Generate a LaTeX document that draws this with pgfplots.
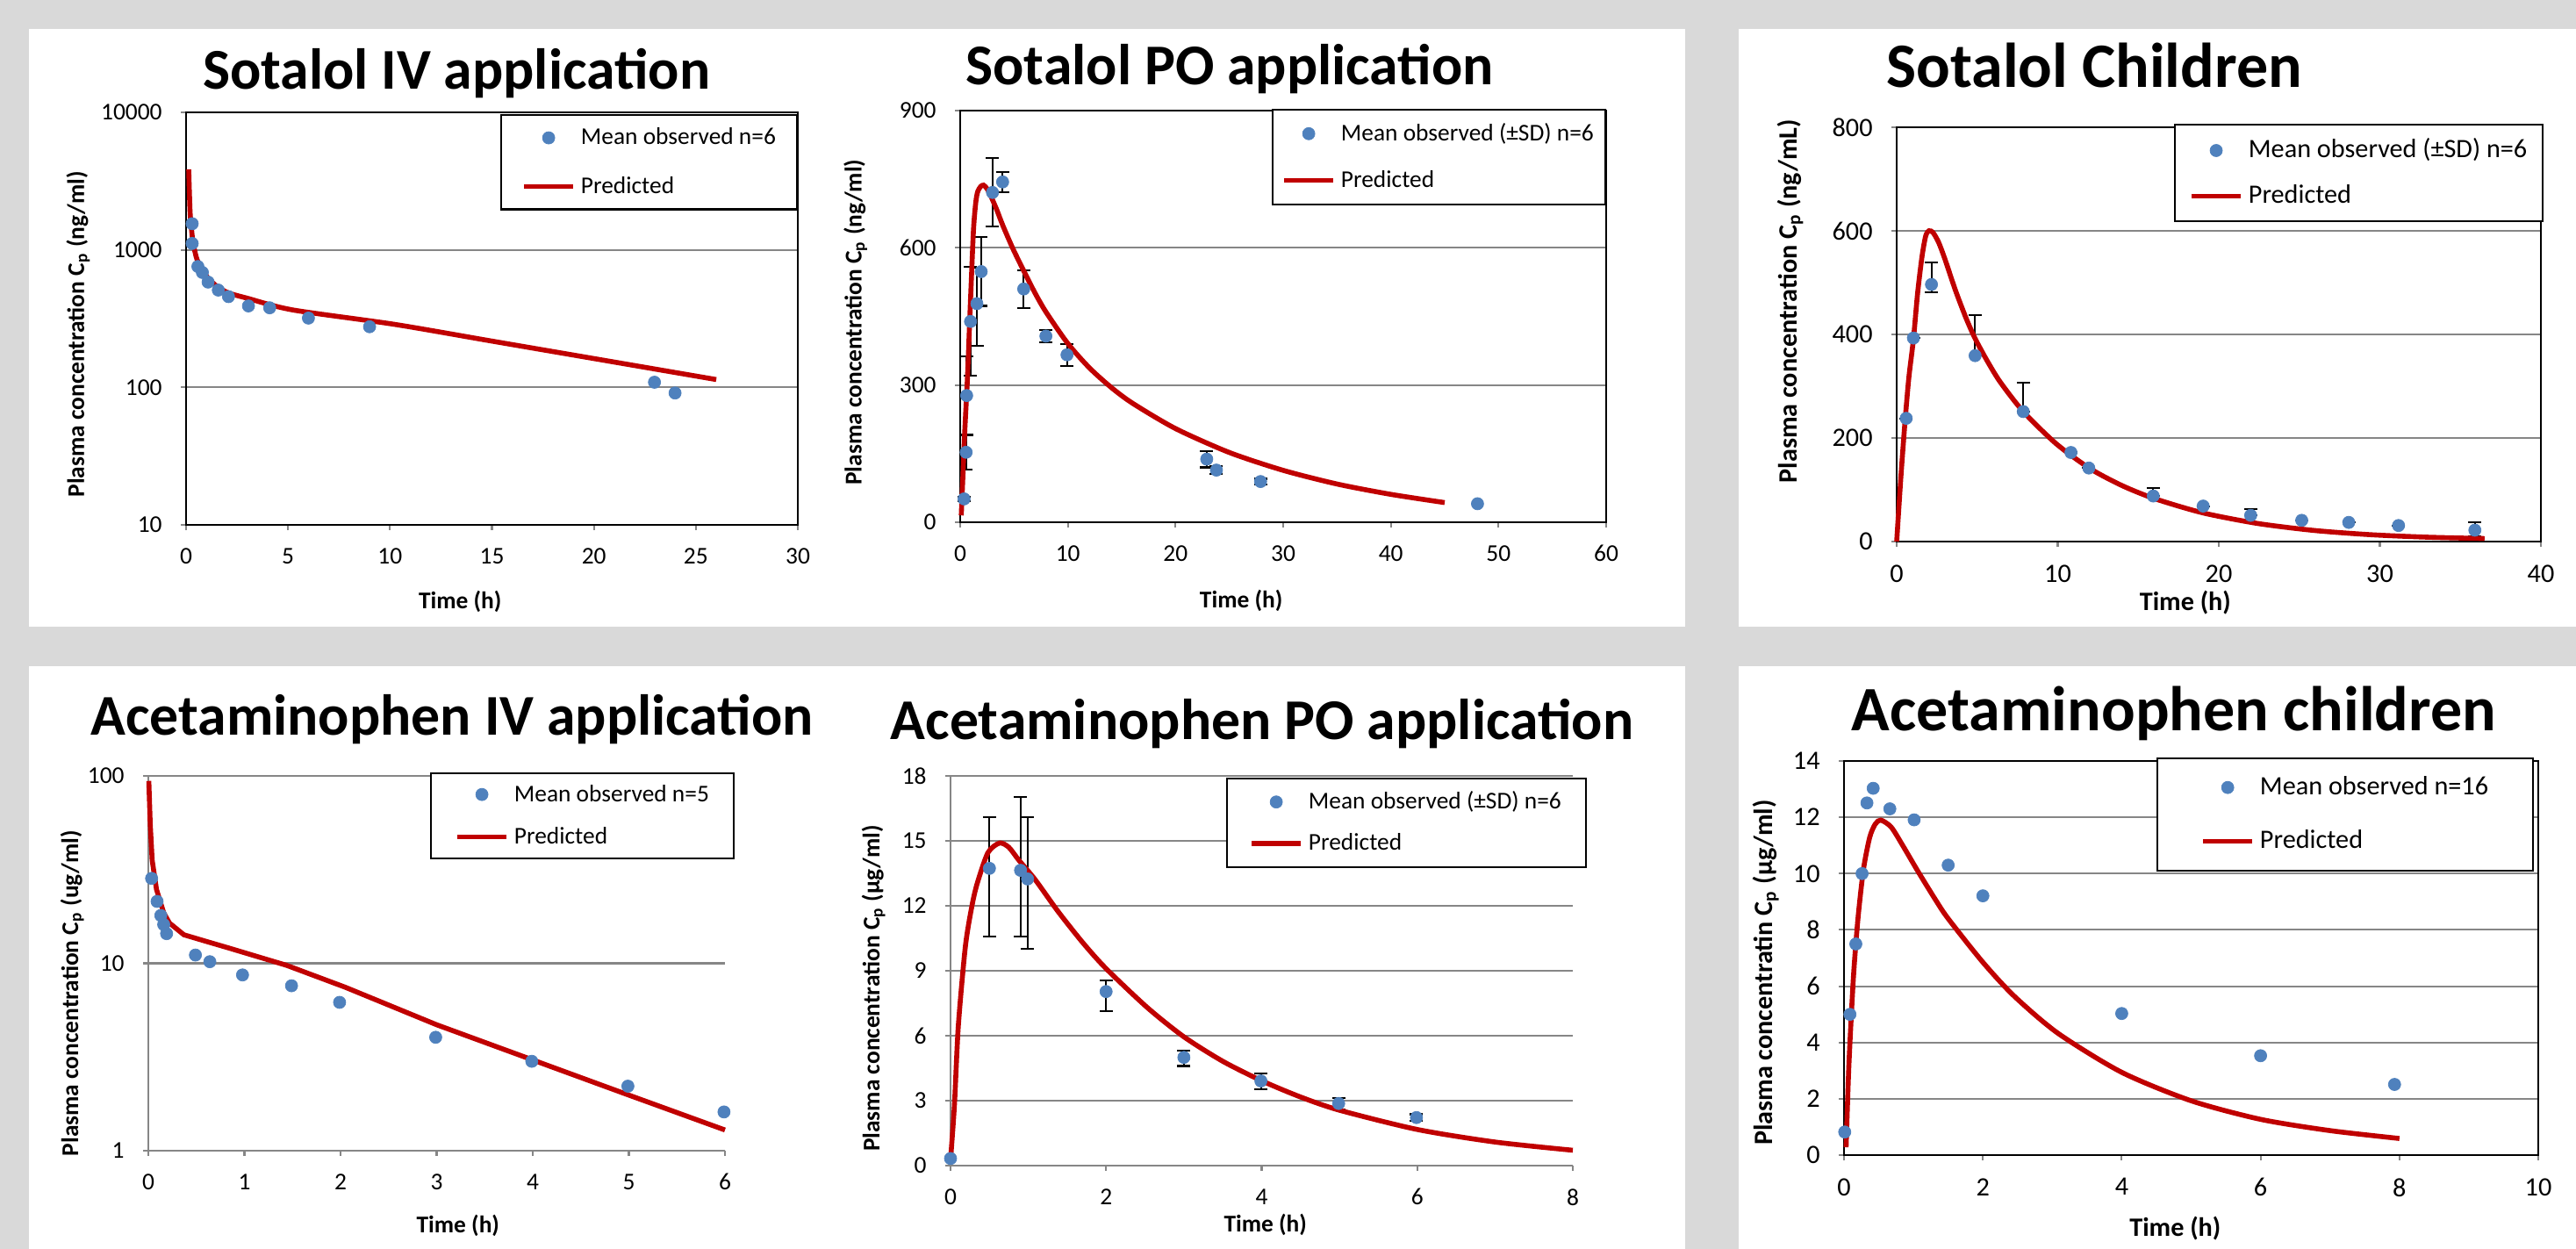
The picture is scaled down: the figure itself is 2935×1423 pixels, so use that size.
\documentclass[border=0pt]{standalone}
\usepackage{fontspec}
\setmainfont{Carlito}
\usepackage{pgfplots}
\pgfplotsset{compat=1.18}
\definecolor{bggrey}{HTML}{D9D9D9}
\definecolor{gridgrey}{HTML}{868686}
\definecolor{obsblue}{HTML}{4F81BD}
\definecolor{predred}{HTML}{C00000}
\newcommand{\fsA}{\fontsize{7.8}{9}\selectfont}
\newcommand{\fsB}{\fontsize{8.6}{10}\selectfont}
\newcommand{\legtext}[2]{\makebox[#1][l]{\rule[-0.7mm]{0pt}{2.8mm}#2}}
\pgfplotsset{
  panel/.style={
    scale only axis, enlargelimits=false, clip=false,
    axis line style={black, line width=0.6pt},
    tick style={gridgrey, line width=0.6pt},
    tick align=outside, major tick length=0.6mm,
    xtick pos=left, ytick pos=left,
    ymajorgrids, grid style={gridgrey, line width=0.6pt},
    xticklabel style={yshift=-0.8mm},
    yticklabel style={xshift=-0.9mm},
    /pgf/number format/assume math mode=true,
    /pgf/number format/1000 sep={},
    scaled ticks=false,
    legend cell align=left,
  },
  open/.style={axis line style={draw=none}},
  fontA/.style={ticklabel style={font=\fsA}, label style={font=\bfseries\fsA}},
  fontB/.style={ticklabel style={font=\fsB}, label style={font=\bfseries\fsB}},
  leg/.style n args={6}{legend style={at={(#1,#2)}, anchor=north east, draw=black,
     line width=0.6pt, fill=white, inner xsep=#3, inner ysep=#4, row sep=#5, font=#6,
     nodes={inner sep=0pt}, /tikz/every odd column/.append style={column sep=0.6mm}}},
  obs/.style={only marks, mark=*, mark size=0.7mm,
     mark options={fill=obsblue, draw=obsblue, line width=0.2pt},
     legend image code/.code={\path[draw=none, fill=none] (0mm,0mm) -- (5.6mm,0mm);
        \draw[##1] plot coordinates {(2.8mm,0mm)};}},
  errs/.style={error bars/.cd, y dir=both, y explicit,
     error bar style={black, line width=0.6pt},
     error mark options={rotate=90, mark size=0.75mm, black, line width=0.6pt}},
  pred/.style={no marks, color=predred, line width=1.6pt, smooth, tension=0.45,
     legend image code/.code={\draw[##1] (0mm,0mm) -- (5.6mm,0mm);}},
}
\begin{document}
\begin{tikzpicture}
\begin{scope}[x=0.1mm, y=-0.1mm]
\fill[bggrey] (0,0) rectangle (2935,1423);
\fill[white] (33,33) rectangle (1920,714);
\fill[white] (1981,33) rectangle (2935,714);
\fill[white] (33,759) rectangle (1920,1423);
\fill[white] (1981,759) rectangle (2935,1423);
\end{scope}

% ---------- Panel 1: Sotalol IV ----------
\begin{axis}[panel, fontA, at={(21.2mm,-59.8mm)}, anchor=south west,
  width=69.7mm, height=47mm,
  xmin=0, xmax=30, xtick={0,5,...,30},
  ymode=log, ymin=10, ymax=10000, ytick={10,100,1000,10000},
  yticklabels={10,100,1000,10000}, yminorticks=false, minor ytick={},
  xlabel={Time (h)}, ylabel={Plasma concentration C\textsubscript{p} (ng/ml)},
  xlabel style={at={(axis description cs:0.448,-0.187)}, anchor=center},
  ylabel style={at={(axis description cs:-0.1765,0.462)}, anchor=center},
  leg={1}{0.996}{2.3mm}{1.3mm}{2.9mm}{\fsA}]
\addplot[obs] coordinates {(0.3,1550) (0.3,1113) (0.58,757) (0.8,685) (1.08,583)
  (1.58,510) (2.08,457) (3.06,391) (4.1,379) (6.0,319) (9.0,276) (22.97,109) (23.98,91)};
\addlegendentry{\legtext{22.3mm}{Mean observed n=6}}
\addplot[pred] coordinates {(0.13,3850) (0.16,2700) (0.2,1850) (0.27,1400) (0.34,1130)
  (0.45,950) (0.55,840) (0.8,720) (1.06,628) (1.5,545) (2.07,487) (3,445) (5.22,366)
  (10.24,287) (15,217) (20,162) (26,114)};
\addlegendentry{\legtext{22.3mm}{Predicted}}
\end{axis}

% ---------- Panel 2: Sotalol PO ----------
\begin{axis}[panel, fontA, at={(109.4mm,-59.5mm)}, anchor=south west,
  width=73.6mm, height=46.9mm,
  xmin=0, xmax=60, xtick={0,10,...,60},
  ymin=0, ymax=900, ytick={0,300,600,900},
  xlabel={Time (h)}, ylabel={Plasma concentration C\textsubscript{p} (ng/ml)},
  xlabel style={at={(axis description cs:0.435,-0.19)}, anchor=center},
  ylabel style={at={(axis description cs:-0.162,0.486)}, anchor=center},
  leg={1}{1.004}{1.0mm}{1.4mm}{2.7mm}{\fsA}]
\addplot[obs, errs] coordinates {
  (0.36,51) +- (0,5)
  (0.55,153) +- (0,37)
  (0.6,277) +- (0,86)
  (0.96,439) +- (0,119)
  (1.55,478) += (0,78) -= (0,92)
  (1.95,548) +- (0,75)
  (3.0,721) +- (0,75)
  (3.94,744) +- (0,22)
  (5.9,510) +- (0,41)
  (7.96,407) +- (0,13)
  (9.92,366) +- (0,24)
  (22.9,138) +- (0,18)
  (23.8,114) +- (0,8)
  (27.9,89) +- (0,6)};
\addlegendentry{\legtext{29.1mm}{Mean observed (±SD) n=6}}
\addplot[pred] coordinates {(0.1,15) (0.25,100) (0.41,192) (0.68,319) (0.95,480)
  (1.23,637) (1.45,700) (1.63,723) (1.9,734) (2.17,737) (2.5,729) (2.85,713) (3.4,683)
  (3.94,650) (4.9,598) (6,545) (7,499) (8,458.5) (10,390.7) (12,337.6) (14,295.3)
  (16,260.3) (20,204.8) (25,152.5) (30,113.5) (35,83.6) (40,61) (45,43)};
\addlegendentry{\legtext{29.1mm}{Predicted}}
\addplot[obs, forget plot] coordinates {(48.05,40.5)};
\end{axis}

% ---------- Panel 3: Sotalol Children ----------
\begin{axis}[panel, fontB, at={(216.1mm,-61.7mm)}, anchor=south west,
  width=73.4mm, height=47.2mm,
  xmin=0, xmax=40, xtick={0,10,...,40},
  ymin=0, ymax=800, ytick={0,200,...,800},
  xlabel={Time (h)}, ylabel={Plasma concentration C\textsubscript{p} (ng/mL)},
  xlabel style={at={(axis description cs:0.448,-0.147)}, anchor=center},
  ylabel style={at={(axis description cs:-0.165,0.58)}, anchor=center},
  leg={1.004}{1.008}{1.6mm}{1.55mm}{2.5mm}{\fsB}]
\addplot[obs, errs] coordinates {
  (0.59,238) +- (0,0)
  (1.04,393) +- (0,0)
  (2.16,496.5) += (0,42) -= (0,15)
  (4.87,359) += (0,79) -= (0,0)
  (7.86,251) += (0,56) -= (0,0)
  (10.82,172) +- (0,0)
  (11.93,142) +- (0,0)
  (15.93,88) += (0,15.5) -= (0,0)
  (19.03,68.5) +- (0,0)
  (21.98,50.6) += (0,12.4) -= (0,0)
  (25.15,41) +- (0,0)
  (28.07,37) +- (0,0)
  (31.16,31) +- (0,0)
  (35.9,22) += (0,15) -= (0,12)};
\addlegendentry{\legtext{31.9mm}{Mean observed (±SD) n=6}}
\addplot[pred] coordinates {(0,0) (0.25,120) (0.5,225) (0.75,315) (1.04,391) (1.3,480)
  (1.57,550) (1.8,590) (2.0,600) (2.25,597) (2.6,578) (3.0,545) (3.65,485) (4.3,432)
  (4.87,392) (5.6,350) (6.43,308) (7.86,251) (9.9,189) (12,141) (14,108) (16,83)
  (19,55.5) (22.4,35) (25.9,21.5) (29.4,13.3) (32.9,8.5) (36.5,5.8)};
\addlegendentry{\legtext{31.9mm}{Predicted}}
\end{axis}

% ---------- Panel 4: Acetaminophen IV ----------
\begin{axis}[panel, open, fontA, at={(16.9mm,-131.1mm)}, anchor=south west,
  width=65.7mm, height=42.7mm,
  xmin=0, xmax=6, xtick={0,1,...,6},
  ymode=log, ymin=1, ymax=100, ytick={1,10,100},
  yticklabels={1,10,100}, yminorticks=false, minor ytick={},
  xlabel={Time (h)}, ylabel={Plasma concentration C\textsubscript{p} (ug/ml)},
  xlabel style={at={(axis description cs:0.537,-0.201)}, anchor=center},
  ylabel style={at={(axis description cs:-0.132,0.42)}, anchor=center},
  leg={1.0167}{1.0094}{2.7mm}{1.1mm}{2.2mm}{\fsA}]
\draw[gridgrey, line width=0.6pt] (rel axis cs:0,1) -- (rel axis cs:0,0) -- (rel axis cs:1,0);
\addplot[obs] coordinates {(0.034,28.4) (0.091,21.4) (0.13,18.0) (0.16,16.1)
  (0.19,14.4) (0.49,11.07) (0.64,10.2) (0.98,8.67) (1.49,7.59) (1.99,6.19)
  (2.99,4.03) (3.99,3.0) (4.99,2.21) (5.99,1.61)};
\addlegendentry{\legtext{22.3mm}{Mean observed n=5}}
\addplot[pred, sharp plot] coordinates {(0.005,94) (0.02,55) (0.04,35.5) (0.085,24.8) (0.16,18.6)
  (0.22,16.4) (0.37,14.2) (0.6,13.1) (0.83,12.1) (1.44,9.75) (2.05,7.45) (3,4.7)
  (4,3.05) (5,1.98) (6,1.29)};
\addlegendentry{\legtext{22.3mm}{Predicted}}
\end{axis}

% ---------- Panel 5: Acetaminophen PO ----------
\begin{axis}[panel, open, fontA, at={(108.3mm,-132.8mm)}, anchor=south west,
  width=70.9mm, height=44.4mm,
  xmin=0, xmax=8, xtick={0,2,...,8},
  ymin=0, ymax=18, ytick={0,3,...,18},
  xlabel={Time (h)}, ylabel={Plasma concentration C\textsubscript{p} (µg/ml)},
  xlabel style={at={(axis description cs:0.506,-0.151)}, anchor=center},
  ylabel style={at={(axis description cs:-0.124,0.455)}, anchor=center},
  leg={1.0226}{0.9955}{2.5mm}{1.35mm}{2.1mm}{\fsA}]
\draw[gridgrey, line width=0.6pt] (rel axis cs:0,1) -- (rel axis cs:0,0) -- (rel axis cs:1,0);
\addplot[obs, errs] coordinates {
  (0.5,13.73) += (0,2.36) -= (0,3.15)
  (0.9,13.64) += (0,3.4) -= (0,3.06)
  (0.99,13.24) += (0,2.85) -= (0,3.24)
  (2.0,8.04) += (0,0.51) -= (0,0.89)
  (3.0,5.0) += (0,0.31) -= (0,0.4)
  (3.99,3.91) += (0,0.33) -= (0,0.4)
  (4.99,2.87) += (0,0.26) -= (0,0.27)
  (5.99,2.22) +- (0,0.15)};
\addlegendentry{\legtext{29.1mm}{Mean observed (±SD) n=6}}
\addplot[pred] coordinates {(0,0.27) (0.05,2.8) (0.1,6.45) (0.19,10.1) (0.27,11.9)
  (0.34,13.0) (0.48,14.45) (0.63,14.9) (0.75,14.7) (0.88,14.1) (1.09,13.2) (1.38,11.75)
  (1.7,10.3) (2.0,9.1) (2.53,7.3) (3,5.95) (3.5,4.82) (4,3.92) (4.5,3.17) (5,2.56)
  (6,1.67) (7,1.09) (8,0.71)};
\addlegendentry{\legtext{29.1mm}{Predicted}}
\addplot[obs, forget plot] coordinates {(0,0.33)};
\end{axis}

% ---------- Panel 6: Acetaminophen children ----------
\begin{axis}[panel, fontB, at={(210.1mm,-131.6mm)}, anchor=south west,
  width=79.1mm, height=44.9mm,
  xmin=0, xmax=10, xtick={0,2,...,10},
  ymin=0, ymax=14, ytick={0,2,...,14},
  xlabel={Time (h)}, ylabel={Plasma concentratin C\textsubscript{p} (µg/ml)},
  xlabel style={at={(axis description cs:0.477,-0.185)}, anchor=center},
  ylabel style={at={(axis description cs:-0.1125,0.463)}, anchor=center},
  leg={0.9937}{1.0089}{4.9mm}{2.0mm}{3.5mm}{\fsB}]
\addplot[obs] coordinates {(0.01,0.82) (0.085,5.0) (0.17,7.5) (0.26,10.0) (0.33,12.51)
  (0.42,13.03) (0.66,12.3) (1.01,11.91) (1.5,10.3) (2.0,9.21) (4.0,5.03) (6.0,3.53)
  (7.93,2.51)};
\addlegendentry{\legtext{26.2mm}{Mean observed n=16}}
\addplot[pred] coordinates {(0.03,0.28) (0.07,3.19) (0.135,6.3) (0.2,8.38) (0.28,10.15)
  (0.37,11.29) (0.45,11.76) (0.53,11.9) (0.68,11.65) (0.85,10.98) (1.06,10.1)
  (1.31,9.1) (1.5,8.4) (2.0,6.85) (2.45,5.65) (3.08,4.33) (4,2.94) (5,1.93) (6,1.27)
  (7,0.87) (8,0.59)};
\addlegendentry{\legtext{26.2mm}{Predicted}}
\end{axis}

% ---------- Titles ----------
\begin{scope}[x=0.1mm, y=-0.1mm]
\node[anchor=base, font=\bfseries\fontsize{18.7}{22}\selectfont] at (520,101) {Sotalol IV application};
\node[anchor=base, font=\bfseries\fontsize{18.7}{22}\selectfont] at (1401,96) {Sotalol PO application};
\node[anchor=base, font=\bfseries\fontsize{20.5}{24}\selectfont] at (2386,99) {Sotalol Children};
\node[anchor=base, font=\bfseries\fontsize{18.7}{22}\selectfont] at (515,837) {Acetaminophen IV application};
\node[anchor=base, font=\bfseries\fontsize{18.7}{22}\selectfont] at (1438,842) {Acetaminophen PO application};
\node[anchor=base, font=\bfseries\fontsize{20.5}{24}\selectfont] at (2477,832) {Acetaminophen children};
\end{scope}

\pgfresetboundingbox
\path (0mm,0mm) rectangle (293.5mm,-142.3mm);
\end{tikzpicture}
\end{document}
